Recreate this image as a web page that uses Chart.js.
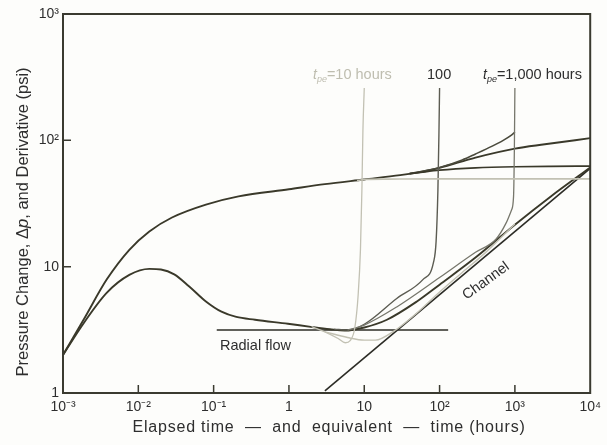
<!DOCTYPE html>
<html>
<head>
<meta charset="utf-8">
<script src="https://cdn.jsdelivr.net/npm/chart.js@4.4.1/dist/chart.umd.min.js"></script>
<style>
  html, body { margin: 0; padding: 0; background: #fdfdfb; }
  canvas { display: block; }
</style>
</head>
<body>
<canvas id="chart" width="607" height="445"></canvas>
<script>
// axis ticks
const xTickVals = [0.001, 0.01, 0.1, 1, 10, 100, 1000, 10000];
const xTickLabels = ['10⁻³', '10⁻²', '10⁻¹', '1', '10', '10²', '10³', '10⁴'];
const yTickVals = [1, 10, 100, 1000];
const yTickLabels = ['1', '10', '10²', '10³'];

// drawdown pressure change
const ddTime = [0.001, 0.0019, 0.0038, 0.0076, 0.014, 0.028, 0.079, 0.214, 1, 3, 10, 30, 50, 73, 100, 300, 1000, 2500, 10000];
const ddDp = [2.0, 3.85, 7.9, 13.6, 19.0, 24.5, 31.0, 36.0, 41.0, 45.0, 49.0, 53.0, 55.5, 58.0, 60.5, 73.0, 86.0, 93.0, 104.0];

// drawdown derivative
const derTime = [0.001, 0.0019, 0.0038, 0.0076, 0.014, 0.02, 0.03, 0.047, 0.079, 0.127, 0.2, 0.355, 0.97, 1.95, 3.5, 5.5, 10, 20, 50, 100, 300, 1000, 3000, 10000];
const derVal = [2.0, 3.6, 6.2, 8.6, 9.6, 9.5, 8.7, 7.0, 5.3, 4.4, 4.0, 3.8, 3.53, 3.34, 3.2, 3.12, 3.3, 3.8, 5.3, 7.2, 11.8, 21.5, 36.0, 61.0];

// buildup, tpe = 10 hours
const b10Time = [8, 10, 20, 100, 1000, 10000];
const b10Dp = [48.0, 49.0, 49.3, 49.5, 49.5, 49.5];
const b10DerTime = [2, 3, 4.5, 5.6, 6.5, 7.5, 8.3, 8.9, 9.3, 9.6, 10];
const b10Der = [3.35, 3.05, 2.7, 2.5, 2.6, 3.3, 6.0, 13.6, 40, 120, 260];

// buildup, tpe = 100 hours
const b100Time = [40, 50, 100, 300, 1000, 3000, 10000];
const b100Dp = [54.5, 55.3, 58.0, 60.5, 61.8, 62.3, 62.5];
const b100DerTime = [4, 6, 10, 27, 60, 83, 90, 95, 98, 100];
const b100Der = [3.2, 3.15, 3.5, 5.6, 7.9, 10.8, 16, 40, 110, 260];

// buildup, tpe = 1,000 hours
const b1000Time = [40, 100, 200, 300, 500, 700, 900, 1000];
const b1000Dp = [54.5, 61.0, 70.0, 78.0, 90.0, 100.0, 110.0, 116.0];
const b1000DerTime = [6, 10, 27, 100, 300, 560, 760, 900, 960, 985, 1000];
const b1000Der = [3.15, 3.45, 4.8, 8.2, 13.0, 16.5, 22.0, 28.0, 36.0, 90, 260];

// second light derivative
const lightTime = [3, 6, 10, 14, 25, 50, 100, 200, 400, 1000];
const lightDer = [3.05, 2.75, 2.62, 2.62, 3.1, 4.3, 6.3, 9.0, 12.8, 21.8];

// reference lines
const radialTime = [0.11, 130];
const radialVal = [3.15, 3.15];
const channelTime = [3, 10000];
const channelVal = [1.04, 60];

const DARK = '#3a392a';
const LIGHT = '#c2c1b3';
const FONT = '"Liberation Sans", Arial, sans-serif';

function pts(ts, vs) {
    return ts.map((t, i) => ({ x: t, y: vs[i] }));
}

function curve(ts, vs, color, width) {
    return {
        data: pts(ts, vs),
        borderColor: color,
        borderWidth: width,
        pointRadius: 0,
        fill: false,
        cubicInterpolationMode: 'monotone'
    };
}

function straight(ts, vs) {
    return {
        data: pts(ts, vs),
        borderColor: '#2c2c26',
        borderWidth: 1.6,
        pointRadius: 0,
        fill: false,
        tension: 0
    };
}

function drawTpe(ctx, x, y, rest, color) {
    ctx.fillStyle = color;
    ctx.textAlign = 'left';
    ctx.textBaseline = 'alphabetic';
    ctx.font = 'italic 14px ' + FONT;
    ctx.fillText('t', x, y);
    x += ctx.measureText('t').width;
    ctx.font = 'italic 9px ' + FONT;
    ctx.fillText('pe', x, y + 3);
    x += ctx.measureText('pe').width;
    ctx.font = '14.5px ' + FONT;
    ctx.fillText(rest, x, y);
}

// frame, inward ticks and annotations
const decorations = {
    id: 'decorations',
    afterDatasetsDraw(chart) {
        const { ctx, chartArea: a, scales } = chart;
        ctx.save();
        ctx.strokeStyle = '#3a3a30';
        ctx.lineWidth = 2;
        ctx.strokeRect(a.left, a.top, a.right - a.left, a.bottom - a.top);

        ctx.lineWidth = 1.5;
        ctx.beginPath();
        xTickVals.slice(1, -1).forEach(v => {
            const x = scales.x.getPixelForValue(v);
            ctx.moveTo(x, a.bottom);
            ctx.lineTo(x, a.bottom - 8);
        });
        yTickVals.slice(1, -1).forEach(v => {
            const y = scales.y.getPixelForValue(v);
            ctx.moveTo(a.left, y);
            ctx.lineTo(a.left + 8, y);
        });
        ctx.stroke();

        ctx.fillStyle = '#2e2e2e';
        ctx.textBaseline = 'alphabetic';

        // Radial flow
        ctx.font = '14.5px ' + FONT;
        ctx.textAlign = 'left';
        ctx.fillText('Radial flow', 220, 350);

        // Channel
        ctx.save();
        ctx.translate(486, 281);
        ctx.rotate(-36 * Math.PI / 180);
        ctx.textAlign = 'center';
        ctx.textBaseline = 'middle';
        ctx.fillText('Channel', 0, 0);
        ctx.restore();

        // tpe labels
        drawTpe(ctx, 313, 79, '=10 hours', '#bebdaf');
        ctx.fillStyle = '#2e2e2e';
        ctx.font = '14.5px ' + FONT;
        ctx.textAlign = 'left';
        ctx.fillText('100', 427, 79);
        drawTpe(ctx, 483, 79, '=1,000 hours', '#2e2e2e');

        // x title
        ctx.save();
        ctx.fillStyle = '#2e2e2e';
        ctx.font = '16px ' + FONT;
        ctx.letterSpacing = '0.8px';
        ctx.textAlign = 'center';
        ctx.textBaseline = 'middle';
        ctx.fillText('Elapsed time  —  and  equivalent  —  time (hours)', 329, 428);
        ctx.restore();

        // y title
        ctx.save();
        ctx.fillStyle = '#2e2e2e';
        ctx.translate(23, 222);
        ctx.rotate(-Math.PI / 2);
        const parts = [
            ['Pressure Change, Δ', '16.5px ' + FONT],
            ['p', 'italic 16.5px ' + FONT],
            [', and Derivative (psi)', '16.5px ' + FONT]
        ];
        let total = 0;
        parts.forEach(p => { ctx.font = p[1]; total += ctx.measureText(p[0]).width; });
        let cx = -total / 2;
        ctx.textAlign = 'left';
        ctx.textBaseline = 'middle';
        parts.forEach(p => {
            ctx.font = p[1];
            ctx.fillText(p[0], cx, 0);
            cx += ctx.measureText(p[0]).width;
        });
        ctx.restore();

        ctx.restore();
    }
};

Chart.defaults.font.family = FONT;

new Chart(document.getElementById('chart'), {
    type: 'line',
    data: {
        datasets: [
            curve(b10Time, b10Dp, LIGHT, 1.6),
            curve(b10DerTime, b10Der, LIGHT, 1.3),
            curve(lightTime, lightDer, LIGHT, 1.4),
            curve(b1000DerTime, b1000Der, '#77776c', 1.3),
            curve(b100DerTime, b100Der, '#5c5c52', 1.4),
            curve(b100Time, b100Dp, DARK, 1.7),
            curve(b1000Time, b1000Dp, '#4a4a3c', 1.6),
            curve(derTime, derVal, DARK, 1.9),
            curve(ddTime, ddDp, DARK, 1.9),
            straight(radialTime, radialVal),
            straight(channelTime, channelVal)
        ]
    },
    options: {
        responsive: false,
        animation: false,
        devicePixelRatio: 1,
        layout: { padding: { top: 14, right: 12, left: 0, bottom: 0 } },
        plugins: {
            legend: { display: false },
            tooltip: { enabled: false }
        },
        scales: {
            x: {
                type: 'logarithmic',
                min: 0.001,
                max: 10000,
                afterBuildTicks: s => { s.ticks = xTickVals.map(v => ({ value: v })); },
                afterFit: s => { s.height = 52; },
                grid: { display: false, drawTicks: false },
                border: { display: false },
                ticks: {
                    autoSkip: false,
                    maxRotation: 0,
                    padding: 6,
                    color: '#2e2e2e',
                    font: { size: 14 },
                    callback: v => {
                        const i = xTickVals.findIndex(t => Math.abs(Math.log10(t) - Math.log10(v)) < 1e-6);
                        return i >= 0 ? xTickLabels[i] : '';
                    }
                }
            },
            y: {
                type: 'logarithmic',
                min: 1,
                max: 1000,
                afterBuildTicks: s => { s.ticks = yTickVals.map(v => ({ value: v })); },
                afterFit: s => { s.width = 63; },
                grid: { display: false, drawTicks: false },
                border: { display: false },
                ticks: {
                    autoSkip: false,
                    padding: 4,
                    color: '#2e2e2e',
                    font: { size: 14 },
                    callback: v => {
                        const i = yTickVals.findIndex(t => Math.abs(Math.log10(t) - Math.log10(v)) < 1e-6);
                        return i >= 0 ? yTickLabels[i] : '';
                    }
                }
            }
        }
    },
    plugins: [decorations]
});
</script>
</body>
</html>
